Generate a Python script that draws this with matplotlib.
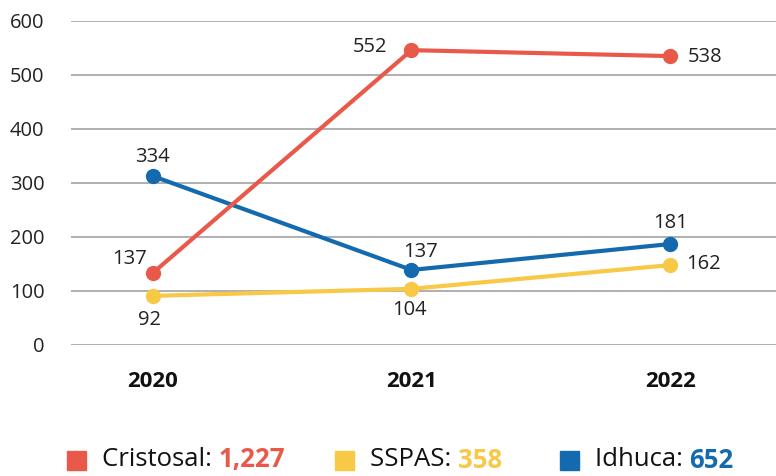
import matplotlib
matplotlib.use("Agg")
import matplotlib.pyplot as plt
from matplotlib.patches import Rectangle

plt.rcParams['font.family'] = ['Open Sans', 'DejaVu Sans']

# data
years = [2020, 2021, 2022]
cristosal = [133, 546, 535]
sspas = [91, 104, 148]
idhuca = [313, 139, 187]
cristosal_labels = ['137', '552', '538']
sspas_labels = ['92', '104', '162']
idhuca_labels = ['334', '137', '181']
legend_names = ['Cristosal: ', 'SSPAS: ', 'Idhuca: ']
legend_totals = ['1,227', '358', '652']

RED = '#E9594A'
YEL = '#F8C847'
BLUE = '#146AAE'

W, H = 776, 476
fig = plt.figure(figsize=(W / 100, H / 100), dpi=100)
ax = fig.add_axes([71 / W, 1 - 345 / H, 1 - 71 / W, (345 - 21) / H])

ax.set_ylim(0, 600)
ax.set_xlim(2019.685, 2022.408)
ax.set_yticks(range(0, 601, 100))
ax.set_xticks(years)
ax.set_xticklabels([str(y) for y in years], fontweight='bold')
ax.tick_params(axis='y', length=0, pad=19, labelsize=14.5, labelcolor='#222222')
ax.tick_params(axis='x', length=0, pad=19, labelsize=16, labelcolor='#111111')
ax.grid(axis='y', color='#9a9a9a', lw=1.1)
ax.set_axisbelow(True)
for s in ax.spines.values():
    s.set_visible(False)

series = [
    (idhuca, idhuca_labels, BLUE, [(0, 19), (9, 18), (0, 21)]),
    (sspas, sspas_labels, YEL, [(-3, -24), (-2, -21), (33, 1)]),
    (cristosal, cristosal_labels, RED, [(-23, 14), (-41, 3), (35, -1)]),
]
px = 72 / 100  # pixels -> points
for vals, labels, col, offs in series:
    ax.plot(years, vals, color=col, lw=3, marker='o', ms=10, solid_capstyle='round', zorder=3)
    for x, y, lab, (dx, dy) in zip(years, vals, labels, offs):
        ax.annotate(lab, (x, y), xytext=(dx * px, dy * px), textcoords='offset points',
                    ha='center', va='center', fontsize=14.5, color='#222222', zorder=4)

# legend
leg_y = 1 - 460 / H
sq_x = [67, 335, 560]
cols = [RED, YEL, BLUE]
fig.canvas.draw()
r = fig.canvas.get_renderer()
for xs, name, tot, col in zip(sq_x, legend_names, legend_totals, cols):
    fig.patches.append(Rectangle((xs / W, 1 - 470 / H), 19 / W, 19 / H, transform=fig.transFigure,
                                 color=col, figure=fig))
    t = fig.text((xs + 35) / W, leg_y, name, fontsize=18.5, color='#111111', va='center', ha='left')
    bb = t.get_window_extent(renderer=r)
    fig.text(bb.x1 / W, leg_y, tot, fontsize=18.5, color=col, fontweight='bold', va='center', ha='left')

fig.savefig('out.png', dpi=100)
